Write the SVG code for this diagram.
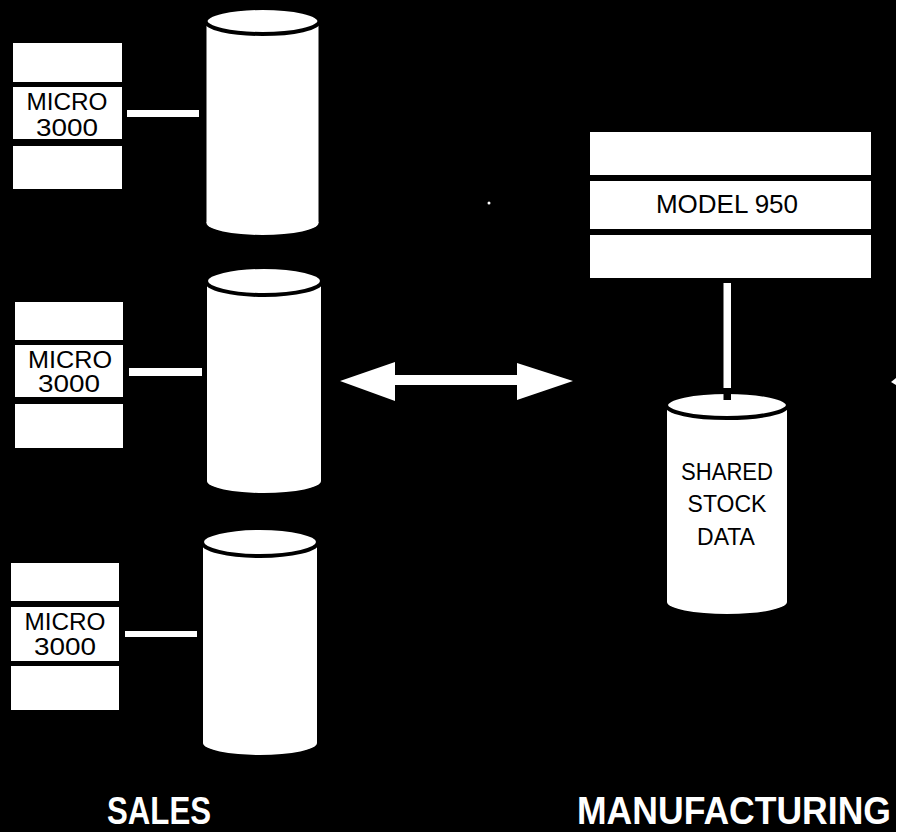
<svg xmlns="http://www.w3.org/2000/svg" width="901" height="832" viewBox="0 0 901 832">
<style>
.w{fill:#fff}
.cap{fill:#fff;stroke:#000;stroke-width:4}
.t{font-family:"Liberation Sans",Arial,sans-serif;fill:#000;text-anchor:middle}
.m{font-size:23px}
.lbl{font-family:"Liberation Sans",Arial,sans-serif;fill:#fff;font-size:39px;font-weight:bold}
</style>
<rect x="0" y="0" width="901" height="832" fill="#000"/>
<rect x="896" y="0" width="5" height="832" fill="#fff"/>
<g id="micro1">
<rect class="w" x="13" y="43" width="109" height="39"/>
<rect class="w" x="13" y="87" width="109" height="52"/>
<rect class="w" x="13" y="146" width="109" height="43"/>
<text class="t m" x="67" y="110" textLength="81" lengthAdjust="spacingAndGlyphs">MICRO</text>
<text class="t m" x="67" y="136" textLength="62" lengthAdjust="spacingAndGlyphs">3000</text>
</g>
<g id="micro2">
<rect class="w" x="15" y="302" width="108" height="38"/>
<rect class="w" x="15" y="345" width="108" height="52"/>
<rect class="w" x="15" y="404" width="108" height="44"/>
<text class="t m" x="70" y="368" textLength="84" lengthAdjust="spacingAndGlyphs">MICRO</text>
<text class="t m" x="69" y="392" textLength="62" lengthAdjust="spacingAndGlyphs">3000</text>
</g>
<g id="micro3">
<rect class="w" x="11" y="563" width="108" height="38"/>
<rect class="w" x="11" y="607" width="108" height="54"/>
<rect class="w" x="11" y="666" width="108" height="44"/>
<text class="t m" x="65" y="630" textLength="81" lengthAdjust="spacingAndGlyphs">MICRO</text>
<text class="t m" x="65" y="655" textLength="62" lengthAdjust="spacingAndGlyphs">3000</text>
</g>
<g id="disk1">
<rect class="w" x="206.5" y="21" width="112" height="202"/>
<ellipse class="w" cx="262.5" cy="223" rx="56" ry="12"/>
<ellipse class="cap" cx="262.5" cy="21" rx="57" ry="13"/>
</g>
<g id="disk2">
<rect class="w" x="207" y="281" width="114" height="200"/>
<ellipse class="w" cx="264" cy="481" rx="57" ry="12"/>
<ellipse class="cap" cx="264" cy="281" rx="58" ry="14"/>
</g>
<g id="disk3">
<rect class="w" x="203" y="542" width="114" height="201"/>
<ellipse class="w" cx="260" cy="743" rx="57" ry="12"/>
<ellipse class="cap" cx="260" cy="542" rx="58" ry="14"/>
</g>
<g id="model950">
<rect class="w" x="590" y="132" width="281" height="43"/>
<rect class="w" x="590" y="181" width="281" height="48"/>
<rect class="w" x="590" y="235" width="281" height="43"/>
<text class="t" x="727" y="213" font-size="26">MODEL 950</text>
</g>
<g id="shared">
<rect class="w" x="667" y="405" width="120" height="197"/>
<ellipse class="w" cx="727" cy="602" rx="60" ry="12"/>
<ellipse class="cap" cx="727" cy="405" rx="61" ry="13"/>
<text class="t m" x="727" y="480" textLength="92" lengthAdjust="spacingAndGlyphs">SHARED</text>
<text class="t m" x="727" y="512">STOCK</text>
<text class="t m" x="726" y="545">DATA</text>
</g>
<g id="connectors">
<rect class="w" x="127" y="110" width="72" height="7"/>
<rect class="w" x="129" y="368" width="73" height="8"/>
<rect class="w" x="125" y="631" width="72" height="6"/>
<rect class="w" x="723.5" y="283" width="7.5" height="105"/>
<rect x="723.5" y="388" width="7.5" height="12" fill="#000"/>
<polygon class="w" points="340,381 395,362 395,375 517,375 517,363 573,381 517,400 517,385 395,385 395,401"/>
</g>
<circle class="w" cx="489" cy="203" r="1.5"/>
<polygon class="w" points="896,378 891,382 896,385"/>
<text class="lbl" x="107" y="824" textLength="104" lengthAdjust="spacingAndGlyphs">SALES</text>
<text class="lbl" x="577" y="824" textLength="314" lengthAdjust="spacingAndGlyphs">MANUFACTURING</text>
</svg>
